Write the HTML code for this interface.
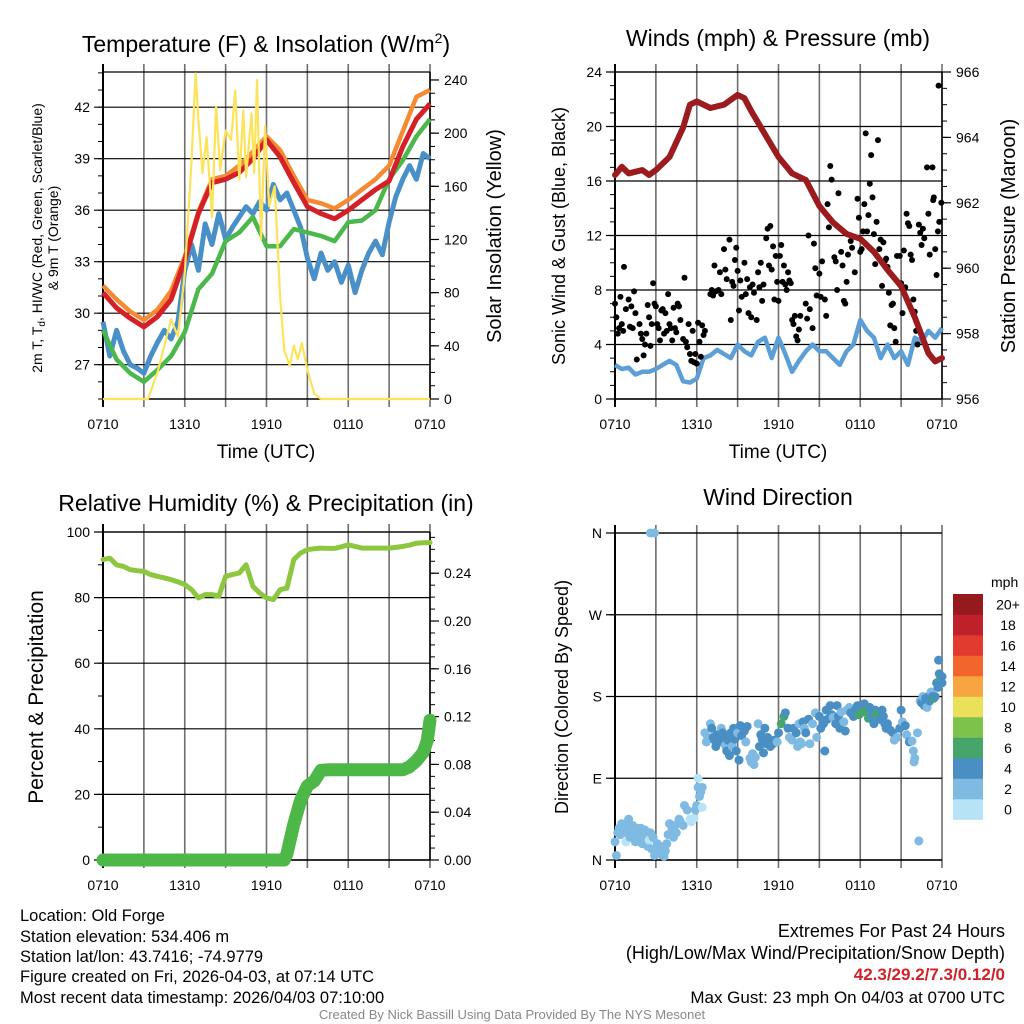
<!DOCTYPE html>
<html><head><meta charset="utf-8"><style>
html,body{margin:0;padding:0;background:#fff;}
svg{display:block;font-family:"Liberation Sans",Arial,sans-serif;}
</style></head><body>
<svg id="fig" width="1024" height="1024" viewBox="0 0 1024 1024" xmlns="http://www.w3.org/2000/svg">
<rect width="1024" height="1024" fill="#fff"/>
<text x="266" y="52" font-size="23" text-anchor="middle">Temperature (F) &amp; Insolation (W/m<tspan font-size="14" dy="-9">2</tspan><tspan dy="9">)</tspan></text>
<text x="778" y="46" font-size="23" text-anchor="middle">Winds (mph) &amp; Pressure (mb)</text>
<text x="266" y="511" font-size="23" text-anchor="middle">Relative Humidity (%) &amp; Precipitation (in)</text>
<text x="778" y="505" font-size="23" text-anchor="middle">Wind Direction</text>

<text transform="translate(42,238) rotate(-90)" font-size="14" text-anchor="middle">2m T, T<tspan font-size="10" dy="3">d</tspan><tspan dy="-3">, HI/WC (Red, Green, Scarlet/Blue)</tspan></text>
<text transform="translate(58,238) rotate(-90)" font-size="14" text-anchor="middle">&amp; 9m T (Orange)</text>
<text transform="translate(501,236) rotate(-90)" font-size="20" text-anchor="middle">Solar Insolation (Yellow)</text>
<text x="266" y="458" font-size="19" text-anchor="middle">Time (UTC)</text>
<text transform="translate(565,236) rotate(-90)" font-size="18" text-anchor="middle">Sonic Wind &amp; Gust (Blue, Black)</text>
<text transform="translate(1015,236) rotate(-90)" font-size="20" text-anchor="middle">Station Pressure (Maroon)</text>
<text x="778" y="458" font-size="19" text-anchor="middle">Time (UTC)</text>
<text transform="translate(43,697) rotate(-90)" font-size="21" text-anchor="middle">Percent &amp; Precipitation</text>
<text transform="translate(568,697) rotate(-90)" font-size="18" text-anchor="middle">Direction (Colored By Speed)</text>

<g id="footer" font-size="16.5">
<text x="20" y="921">Location: Old Forge</text>
<text x="20" y="942">Station elevation: 534.406 m</text>
<text x="20" y="962">Station lat/lon: 43.7416; -74.9779</text>
<text x="20" y="982">Figure created on Fri, 2026-04-03, at 07:14 UTC</text>
<text x="20" y="1003">Most recent data timestamp: 2026/04/03 07:10:00</text>
<text x="1005" y="937" text-anchor="end" font-size="18">Extremes For Past 24 Hours</text>
<text x="1005" y="959" text-anchor="end" font-size="18">(High/Low/Max Wind/Precipitation/Snow Depth)</text>
<text x="1005" y="980" text-anchor="end" font-size="17" font-weight="bold" fill="#d0222a">42.3/29.2/7.3/0.12/0</text>
<text x="1005" y="1003" text-anchor="end" font-size="17">Max Gust: 23 mph On 04/03 at 0700 UTC</text>
<text x="512" y="1019" text-anchor="middle" font-size="13" fill="#888">Created By Nick Bassill Using Data Provided By The NYS Mesonet</text>
</g>
</svg>
<script>
// ---------- data ----------
const timeLabels = ["0710","1310","1910","0110","0710"];
const hourlyHours = [0,1,2,3,4,5,6,7,8,9,10,11,12,13,14,15,16,17,18,19,20,21,22,23,24];
const tempRed = [31.2,30.3,29.7,29.2,29.8,30.8,33.1,35.8,37.6,37.8,38.2,39.0,40.1,39.1,37.6,36.2,35.8,35.5,36.0,36.6,37.2,37.7,39.7,41.3,42.2];
const tempOrange = [31.6,30.8,30.1,29.6,30.2,31.3,33.3,35.9,37.8,38.0,38.6,39.4,40.3,39.5,38.0,36.6,36.4,36.1,36.6,37.2,37.8,38.6,40.6,42.6,43.0];
const tempGreen = [29.0,27.3,26.5,26.0,26.7,27.5,28.9,31.4,32.3,34.2,34.7,35.6,33.9,33.9,34.9,34.7,34.5,34.2,35.3,35.4,36.0,37.8,38.9,40.3,41.3];
const halfHours = [0,0.5,1,1.5,2,2.5,3,3.5,4,4.5,5,5.5,6,6.5,7,7.5,8,8.5,9,9.5,10,10.5,11,11.5,12,12.5,13,13.5,14,14.5,15,15.5,16,16.5,17,17.5,18,18.5,19,19.5,20,20.5,21,21.5,22,22.5,23,23.5,24];
const tempBlue = [29.5,27.5,29.0,27.8,27.0,26.8,26.5,27.5,28.3,29.0,28.5,29.5,32.5,34.0,32.5,35.2,34.0,35.8,34.3,35.0,35.6,36.2,35.8,36.5,36.0,37.5,36.6,37.0,36.0,35.0,33.2,32.0,33.5,32.5,33.0,31.8,32.8,31.2,32.5,33.5,34.2,33.4,35.3,36.8,37.8,38.6,37.8,39.3,39.0];
const solarHours = [0,3.3,4,5,5.5,6,6.5,6.8,7,7.3,7.6,8,8.3,8.6,9,9.4,9.7,10,10.3,10.5,10.9,11.1,11.3,11.6,11.9,12.2,12.6,13,13.3,13.7,14,14.3,14.6,15,15.5,16,24];
const solarValues = [0,0,20,60,47,95,180,245,210,170,197,137,220,172,202,195,232,165,217,167,215,170,240,120,205,145,160,77,37,25,40,30,42,22,4,0,0];
const pressureHours = [0,0.5,1,2,2.5,3,4,5,5.5,6,7,8,9,9.5,10,11,12,13,14,15,16,17,18,19,20,21,22,23,23.5,24];
const pressureValues = [962.85,963.1,962.9,963.0,962.85,963.0,963.4,964.3,965.0,965.1,964.9,965.0,965.3,965.2,964.8,964.1,963.4,962.9,962.7,961.9,961.4,961.05,960.9,960.5,959.95,959.45,958.5,957.4,957.15,957.25];
const windSpeed = [2.5,2.2,2.3,1.8,2.0,2.0,2.2,2.5,2.8,2.5,1.3,1.2,1.5,3.0,3.2,3.6,3.3,3.0,4.0,3.5,3.2,4.2,4.5,3.0,4.5,3.3,2.0,2.8,3.5,4.0,3.5,3.5,3.0,2.5,3.5,4.0,5.8,5.0,4.5,3.0,4.0,3.0,3.5,2.5,4.5,4.2,5.0,4.5,5.2];
const gustHours = [0.0,0.1,0.2,0.3,0.4,0.5,0.6,0.8,0.66,1.0,1.1,1.2,1.3,1.4,1.5,1.6,1.8,1.9,2.0,2.1,2.2,2.3,2.4,2.5,2.6,2.7,2.8,2.9,3.0,3.1,3.2,3.3,3.4,3.5,3.6,3.7,3.8,3.9,4.0,4.1,4.2,4.3,4.4,4.5,4.6,4.7,4.8,5.0,5.1,5.2,5.3,5.4,5.5,5.6,5.7,5.8,5.9,6.0,6.1,6.2,6.3,6.4,6.5,6.6,7.0,7.1,7.2,7.3,7.4,7.6,7.7,7.8,8.0,8.1,8.2,8.4,8.5,8.6,8.7,8.8,8.9,9.0,9.1,9.2,9.3,9.5,9.6,9.7,9.8,9.9,10.0,10.1,10.2,10.4,10.5,10.6,10.7,10.8,10.9,11.1,11.2,11.3,11.4,11.5,11.6,11.7,11.8,11.9,12.0,12.1,12.2,12.3,12.4,12.5,12.6,12.7,12.8,12.9,13.0,13.1,13.2,13.3,13.4,13.5,13.6,14.0,14.1,14.2,14.3,14.5,14.6,14.7,14.8,15.0,15.1,15.2,15.4,15.5,15.6,15.7,15.8,15.9,16.1,16.2,16.3,16.4,16.6,16.7,16.8,16.9,17.0,17.1,17.3,17.4,17.6,17.8,17.9,18.0,18.1,18.2,18.3,18.4,18.5,18.6,18.7,18.8,18.9,19.0,19.1,19.2,19.3,19.4,19.5,19.6,19.7,19.8,19.9,20.0,20.1,20.2,20.3,20.4,20.5,20.6,20.7,20.9,21.0,21.1,21.2,21.3,21.4,21.5,21.6,21.7,21.8,21.9,22.0,22.1,22.2,22.3,22.4,22.5,22.6,22.7,22.9,23.0,23.1,23.3,23.35,23.4,23.5,23.6,23.7,23.8,23.75,23.95];
const gustValues = [7.0,6.0,4.8,5.2,7.5,5.5,5.0,6.6,9.7,7.3,5.3,6.8,5.2,7.9,6.3,2.9,5.5,4.8,4.4,3.2,4.0,4.8,6.9,6.0,3.9,5.5,8.5,7.0,6.8,5.5,5.2,4.3,6.5,6.6,4.8,6.3,5.0,7.7,5.5,5.2,4.3,6.7,5.2,4.9,7.0,6.8,5.8,4.4,8.9,4.2,3.8,5.5,3.3,2.8,5.0,2.7,3.3,2.6,5.6,4.2,3.1,5.4,4.7,5.0,7.7,8.0,7.6,9.8,7.9,8.0,9.3,7.7,11.0,9.5,8.8,11.7,5.8,8.6,8.3,10.2,11.1,9.4,6.5,8.7,7.5,10.0,7.7,8.8,6.3,8.2,6.0,8.4,7.8,5.8,9.3,8.2,10.0,7.2,8.4,11.8,12.5,9.8,12.7,9.5,11.2,7.3,10.5,8.6,7.2,10.5,11.3,8.6,9.8,8.4,8.0,9.3,8.7,8.5,5.8,5.5,6.1,4.6,4.3,5.1,6.1,7.0,5.9,12.0,6.6,5.2,11.4,9.6,7.6,9.2,7.5,10.1,7.3,6.1,14.3,12.6,17.1,16.1,10.4,10.1,8.0,15.1,10.8,9.8,7.2,7.0,8.6,10.6,11.6,11.1,9.3,14.7,13.3,10.8,11.0,12.3,14.3,19.5,12.3,13.5,15.8,17.9,14.8,12.1,9.9,13.0,19.0,11.0,11.7,8.3,11.5,10.1,10.3,9.7,7.8,5.4,6.9,7.0,5.2,4.2,10.5,10.5,8.5,6.3,10.9,8.2,13.6,12.9,12.7,10.6,10.2,7.3,6.4,5.0,4.0,12.8,12.2,11.3,12.5,11.8,17.0,13.6,10.6,17.0,14.6,14.8,11.0,9.1,12.3,13.0,23.0,14.4];
const rhValues = [91.6,92,90,89.5,88.5,88.2,88,87,86.5,86,85.5,84.8,84,82.4,79.9,80.9,80.9,80.4,86.5,87,87.5,90,83.4,81.4,79.9,79.4,82.4,82.9,91.6,93.6,94.6,94.9,95.1,95.0,95.0,95.5,96.1,95.6,95.1,95.1,95.1,95.1,95.1,95.3,95.6,96.0,96.6,96.7,96.8];
const precipHours = [0,13.3,13.5,14,14.5,15,15.5,16,16.5,22,22.5,23,23.5,23.8,24];
const precipValues = [0,0,0.005,0.03,0.05,0.062,0.066,0.075,0.0755,0.0755,0.078,0.083,0.09,0.1,0.117];
const dirHours = [0,0.1,0.2,0.3,0.4,0.5,0.6,0.7,0.8,0.9,1.0,1.1,1.2,1.3,1.4,1.5,1.6,1.7,1.8,1.9,2.0,2.1,2.2,2.3,2.4,2.5,2.6,2.7,2.8,2.9,3.0,3.1,3.2,3.3,3.4,3.5,3.6,3.7,3.8,3.9,4.0,4.1,4.2,4.3,4.4,4.5,4.6,4.7,4.8,5.0,5.1,5.3,5.5,5.6,5.8,5.9,6.0,6.1,6.2,6.1,6.3,6.4,6.4,6.6,6.7,6.8,2.6,2.9,
 7.0,7.1,7.2,7.3,7.4,7.5,7.6,7.8,7.9,8.0,8.1,8.2,8.3,8.4,8.5,8.6,8.7,8.8,8.9,9.0,9.1,9.2,9.3,9.5,9.6,9.7,9.9,10.0,10.1,10.2,10.3,10.5,10.6,10.7,10.8,10.9,11.0,11.1,11.2,11.3,11.4,11.6,11.7,11.9,
 12.0,12.2,12.4,12.5,12.7,12.8,13.0,13.1,13.3,13.4,13.5,13.6,13.7,13.8,13.9,
 14.0,14.2,14.3,14.5,14.7,14.8,15.0,15.1,15.3,15.4,15.5,15.6,15.8,15.9,16.0,16.2,16.3,16.4,16.5,16.6,16.8,16.9,17.0,17.2,17.3,17.5,17.6,17.8,17.9,18.0,18.2,18.3,18.5,18.6,18.7,18.8,19.0,19.1,19.2,19.4,19.6,19.7,19.8,19.9,
 20.0,20.2,20.4,20.5,20.7,20.9,21.0,21.1,21.3,21.4,21.6,21.8,21.9,21.95,22.0,22.2,22.3,22.4,22.5,22.6,22.7,22.8,22.9,23.0,23.1,23.2,23.3,23.4,23.5,23.6,23.7,23.8,23.75,23.9,24.0,24.0];
const dirDegrees = [20,5,30,35,28,40,30,38,20,34,45,25,32,38,30,20,35,22,30,35,18,28,33,25,15,22,30,12,25,5,8,18,10,15,6,12,4,10,18,28,40,30,35,25,38,30,40,45,42,38,60,55,45,42,46,55,60,80,70,90,75,80,58,140,130,135,360,360,
 150,145,135,132,125,138,130,145,140,135,126,120,132,115,140,125,145,133,120,140,110,148,137,142,130,147,112,108,117,105,113,150,125,138,133,118,145,128,135,130,125,128,132,130,
 140,150,158,162,145,135,132,145,140,125,150,130,128,152,145,
 140,155,128,150,162,135,158,145,150,120,165,155,170,160,157,150,170,158,145,163,152,142,165,168,162,158,165,170,160,168,163,172,165,156,168,158,150,165,160,155,165,158,150,145,
 150,143,140,132,135,145,165,152,148,138,130,131,120,108,112,140,21,175,173,180,170,178,168,180,175,185,180,178,180,195,190,205,220,200,195,202];
const dirSpeeds = [2,2,2,2,2,2,2,2,0,2,2,2,2,2,2,2,2,2,2,2,2,2,2,2,2,0,2,2,2,2,2,2,2,2,2,2,2,2,2,2,2,2,2,2,2,2,2,2,2,2,2,2,0,0,0,2,2,2,2,0,2,2,0,2,2,2,2,2,
 2,4,4,4,4,4,4,2,4,4,2,4,4,4,4,2,4,4,4,2,4,4,4,4,2,4,2,2,2,2,2,2,4,4,4,4,4,4,4,4,4,4,4,2,
 4,6,6,4,4,2,2,4,4,2,2,2,2,4,2,
 4,4,2,2,2,2,4,4,4,4,4,4,4,4,2,4,4,4,4,2,2,4,2,2,4,4,4,4,6,4,6,4,6,6,4,4,4,4,6,4,4,4,4,4,
 4,4,4,2,2,4,4,2,4,2,4,2,2,2,2,2,2,2,4,2,4,4,2,4,4,2,4,6,4,4,4,4,4,6,4,4];
const speedLabels = ["0","2","4","6","8","10","12","14","16","18","20+"];
const speedColors = ["#b6e3f5","#7fbae3","#4a8fc4","#46a56b","#7dc24b","#ebe05a","#f7a541","#f2662e","#e03b2e","#c0202a","#951a1d"];

// ---------- helpers ----------
const NS = "http://www.w3.org/2000/svg";
const svg = document.getElementById("fig");
function el(tag, attrs, parent) {
  const e = document.createElementNS(NS, tag);
  for (const k in attrs) e.setAttribute(k, attrs[k]);
  (parent || svg).appendChild(e);
  return e;
}
function scale(d0, d1, r0, r1) { return v => r0 + (v - d0) * (r1 - r0) / (d1 - d0); }
function pathFrom(xs, ys, fx, fy) {
  return xs.map((x, i) => (i ? "L" : "M") + fx(x).toFixed(1) + "," + fy(ys[i]).toFixed(1)).join("");
}
function frame(p, name) {
  const g = el("g", {});
  
  
  const fx = scale(0, 24, p.x0, p.x1);
  for (let h = 0; h <= 24; h += 3) {
    const x = fx(h);
    const ln = el("line", {x1: x, x2: x, y1: p.y0 - 8, y2: p.y1 + 8, stroke: (h === 0 ? "#000" : "#6e6e6e"), "stroke-width": (h === 0 ? 2 : 1.6)}, g);
    
    
  }
  timeLabels.forEach((t, i) => {
    const tx = el("text", {x: fx(i * 6), y: p.y1 + 30, "font-size": 14, "text-anchor": "middle"}, g);
    tx.textContent = t;
    
    
  });
  const fl = scale(p.l0, p.l1, p.y1, p.y0);
  for (let v = p.lmin0; v <= p.l1 + 1e-9; v += p.lminor) {
    const y = fl(v);
    if (y < p.y0 - 0.5) continue;
    el("line", {x1: p.x0 - 5, x2: p.x0, y1: y, y2: y, stroke: "#000", "stroke-width": 1}, g);
  }
  p.lticks.forEach((v, i) => {
    const y = fl(v);
    const gl = el("line", {x1: p.x0 - 9, x2: p.x1, y1: y, y2: y, stroke: "#000", "stroke-width": 1.2}, g);
    
    
    const tx = el("text", {x: p.x0 - 13, y: y + 5, "font-size": 14, "text-anchor": "end"}, g);
    tx.textContent = p.llabels ? p.llabels[i] : v;
    
    
  });
  el("line", {x1: p.x0, x2: p.x0, y1: p.y0 - 8, y2: p.y1 + 8, stroke: "#000", "stroke-width": 2}, g);
  el("line", {x1: p.x0, x2: p.x1, y1: p.y0, y2: p.y0, stroke: "#000", "stroke-width": 1.2}, g);
  el("line", {x1: p.x0, x2: p.x1, y1: p.y1, y2: p.y1, stroke: "#000", "stroke-width": 1.5}, g);
  let fr = null;
  if (p.r1 !== undefined) {
    fr = scale(p.r0, p.r1, p.y1, p.y0);
    for (let v = p.r0; v <= p.r1 + 1e-9; v += p.rminor) {
      el("line", {x1: p.x1, x2: p.x1 + 5, y1: fr(v), y2: fr(v), stroke: "#000", "stroke-width": 1}, g);
    }
    p.rticks.forEach((v, i) => {
      const y = fr(v);
      el("line", {x1: p.x1, x2: p.x1 + 9, y1: y, y2: y, stroke: "#000", "stroke-width": 1.2}, g);
      const tx = el("text", {x: p.x1 + 14, y: y + 5, "font-size": 14}, g);
      tx.textContent = p.rlabels[i];
      
      
    });
    el("line", {x1: p.x1, x2: p.x1, y1: p.y0, y2: p.y1, stroke: "#000", "stroke-width": 1.5}, g);
  }
  return {fx, fl, fr};
}

// ---------- panel 1: temperature ----------
const p1 = {x0:103,x1:430,y0:72,y1:399,l0:25,l1:44.05,lmin0:25,lminor:1,lticks:[27,30,33,36,39,42],
  r0:0,r1:246,rminor:10,rticks:[0,40,80,120,160,200,240],rlabels:["0","40","80","120","160","200","240"]};
const a1 = frame(p1, "temperature");
const s1 = el("g", {});


let ln;
ln = el("path", {d: pathFrom(halfHours, tempBlue, a1.fx, a1.fl), fill: "none", stroke: "#4a90c8", "stroke-width": 5, "stroke-linejoin": "round"}, s1);


ln = el("path", {d: pathFrom(hourlyHours, tempGreen, a1.fx, a1.fl), fill: "none", stroke: "#4ab84a", "stroke-width": 4.5, "stroke-linejoin": "round"}, s1);


ln = el("path", {d: pathFrom(hourlyHours, tempOrange, a1.fx, a1.fl), fill: "none", stroke: "#f58a33", "stroke-width": 4.5, "stroke-linejoin": "round"}, s1);


ln = el("path", {d: pathFrom(hourlyHours, tempRed, a1.fx, a1.fl), fill: "none", stroke: "#d42026", "stroke-width": 5, "stroke-linejoin": "round"}, s1);


ln = el("path", {d: pathFrom(solarHours, solarValues, a1.fx, a1.fr), fill: "none", stroke: "#fde35a", "stroke-width": 2.2, "stroke-linejoin": "round"}, s1);



// ---------- panel 2: winds ----------
const p2 = {x0:615,x1:942,y0:72,y1:399,l0:0,l1:24,lmin0:0,lminor:1,lticks:[0,4,8,12,16,20,24],
  r0:956,r1:966,rminor:0.5,rticks:[956,958,960,962,964,966],rlabels:["956","958","960","962","964","966"]};
const a2 = frame(p2, "winds");
const s2 = el("g", {});


ln = el("path", {d: pathFrom(halfHours, windSpeed, a2.fx, a2.fl), fill: "none", stroke: "#5b9fd6", "stroke-width": 4.5, "stroke-linejoin": "round"}, s2);


gustHours.forEach((h, i) => {
  const c = el("circle", {cx: a2.fx(h), cy: a2.fl(gustValues[i]), r: 3, fill: "#000"}, s2);
  
  
});
ln = el("path", {d: pathFrom(pressureHours, pressureValues, a2.fx, a2.fr), fill: "none", stroke: "#9b1b1e", "stroke-width": 6, "stroke-linejoin": "round", "stroke-linecap": "round"}, s2);



// ---------- panel 3: humidity & precip ----------
const p3 = {x0:103,x1:430,y0:532,y1:860,l0:0,l1:100,lmin0:0,lminor:10,lticks:[0,20,40,60,80,100],
  r0:0,r1:0.2745,rminor:0.01,rticks:[0,0.04,0.08,0.12,0.16,0.2,0.24],rlabels:["0.00","0.04","0.08","0.12","0.16","0.20","0.24"]};
const a3 = frame(p3, "humidity");
const s3 = el("g", {});


ln = el("path", {d: pathFrom(halfHours, rhValues, a3.fx, a3.fl), fill: "none", stroke: "#8dc63f", "stroke-width": 5, "stroke-linejoin": "round", "stroke-linecap": "round"}, s3);


ln = el("path", {d: pathFrom(precipHours, precipValues, a3.fx, a3.fr), fill: "none", stroke: "#4db848", "stroke-width": 13, "stroke-linejoin": "round", "stroke-linecap": "round"}, s3);



// ---------- panel 4: wind direction ----------
const p4 = {x0:615,x1:942,y0:533,y1:860,l0:0,l1:360,lmin0:0,lminor:90,lticks:[0,90,180,270,360],llabels:["N","E","S","W","N"]};
const a4 = frame(p4, "wind-direction");
const s4 = el("g", {});


dirHours.forEach((h, i) => {
  const bin = Math.min(10, Math.round(dirSpeeds[i] / 2));
  const c = el("circle", {cx: a4.fx(h), cy: a4.fl(dirDegrees[i]), r: 4.5, fill: speedColors[bin]}, s4);
  
  
});
const cb = el("g", {});


const cbTop = 594, cbH = 20.5;
const cbt = el("text", {x: 991, y: 587, "font-size": 14}, cb);
cbt.textContent = "mph";


speedLabels.forEach((lab, i) => {
  const k = 10 - i;
  const y = cbTop + k * cbH;
  const r = el("rect", {x: 953, y: y, width: 30, height: cbH + 0.3, fill: speedColors[i]}, cb);
  
  
  const t = el("text", {x: 1008, y: y + cbH / 2 + 5, "font-size": 14, "text-anchor": "middle"}, cb);
  t.textContent = lab;
  
  
});
</script>
</body></html>
